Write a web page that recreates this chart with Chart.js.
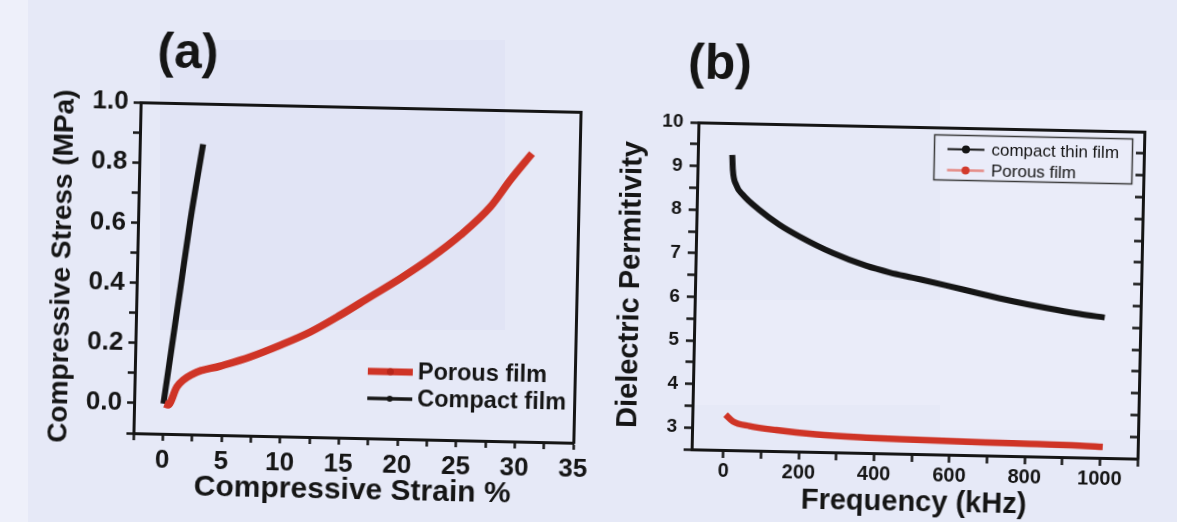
<!DOCTYPE html>
<html>
<head>
<meta charset="utf-8">
<script src="https://cdn.jsdelivr.net/npm/chart.js@4.4.1/dist/chart.umd.min.js"></script>
<style>
html,body{margin:0;padding:0;}
body{width:1177px;height:522px;background:#e6e9f7;position:relative;overflow:hidden;}
.patch{position:absolute;}
canvas{position:absolute;}
#ca{left:0;top:0;transform-origin:357px 272.5px;transform:rotate(1.25deg);}
#cb{left:600px;top:0;transform-origin:318px 290.5px;transform:rotate(1.2deg);}
.lab{position:absolute;font:bold 50px "Liberation Sans",Arial,sans-serif;color:#151515;line-height:1;transform:translate(-50%,-50%) rotate(1.2deg);white-space:nowrap;}
</style>
</head>
<body>
<div class="patch" style="left:0;top:0;width:28px;height:522px;background:#eef0fa"></div>
<div class="patch" style="left:160px;top:40px;width:345px;height:290px;background:#e1e4f5"></div>
<div class="patch" style="left:940px;top:100px;width:237px;height:330px;background:#eaecf9"></div>
<div class="patch" style="left:690px;top:300px;width:250px;height:105px;background:#eaecf9"></div>
<canvas id="ca" width="600" height="522"></canvas>
<canvas id="cb" width="577" height="522"></canvas>
<div class="lab" style="left:188px;top:51px">(a)</div>
<div class="lab" style="left:720px;top:62px">(b)</div>
<script>
// ---------- Panel (a): compressive stress vs strain ----------
const porousStrain = [0.1, 0.4, 1.12, 2.51, 4.77, 7.31, 9.85, 12.38, 14.9, 17.42, 19.95, 22.47, 24.98, 27.48, 29.14, 30.94];
const porousStress = [0.0, -0.004, 0.057, 0.102, 0.129, 0.162, 0.203, 0.249, 0.307, 0.370, 0.433, 0.502, 0.581, 0.677, 0.768, 0.858];
const compactStrain = [0.0, 1.25, 1.95, 2.9];
const compactStress = [0.0, 0.39, 0.61, 0.865];
const strainTickLabels = [0, 5, 10, 15, 20, 25, 30, 35];
const stressTickLabels = [0.0, 0.2, 0.4, 0.6, 0.8, 1.0];
const seriesNamesA = ['Porous film', 'Compact film'];

// ---------- Panel (b): dielectric permittivity vs frequency ----------
const freqCompact = [6.7, 9, 19, 37, 82, 136, 190, 279, 369, 431, 493, 582, 671, 760, 849, 938, 1005];
const permCompact = [9.27, 8.93, 8.58, 8.36, 8.02, 7.69, 7.43, 7.07, 6.79, 6.65, 6.54, 6.38, 6.21, 6.05, 5.91, 5.79, 5.72];
const freqPorous = [3.3, 23, 68, 139, 245, 378, 467, 768, 945, 1007];
const permPorous = [3.31, 3.16, 3.06, 2.98, 2.90, 2.85, 2.83, 2.79, 2.77, 2.75];
const freqTickLabels = [0, 200, 400, 600, 800, 1000];
const permTickLabels = [3, 4, 5, 6, 7, 8, 9, 10];
const seriesNamesB = ['compact thin film', 'Porous film'];

const FONT = '"Liberation Sans", Arial, Helvetica, sans-serif';
const INK = '#151515';
const RED = '#cf3426';

const pts = (xs, ys) => xs.map((x, i) => ({x: x, y: ys[i]}));
const inList = (list, v) => list.some(m => Math.abs(m - v) < 1e-6);

// tick marks at every multiple of `step` inside the scale range
function stepTicks(step) {
  return function (scale) {
    const out = [];
    const first = Math.ceil(scale.min / step - 1e-9);
    const last = Math.floor(scale.max / step + 1e-9);
    for (let k = first; k <= last; k++) out.push({value: Math.round(k * step * 1000) / 1000});
    scale.ticks = out;
  };
}

function innerLegend(cfg) {
  return {
    id: 'innerLegend',
    afterDraw(chart) {
      const ctx = chart.ctx, a = chart.chartArea;
      ctx.save();
      if (cfg.box) {
        ctx.strokeStyle = cfg.box.color; ctx.lineWidth = cfg.box.width;
        ctx.strokeRect(a.left + cfg.box.x, a.top + cfg.box.y, cfg.box.w, cfg.box.h);
      }
      ctx.font = cfg.font; ctx.textBaseline = 'middle'; ctx.textAlign = 'left';
      cfg.items.forEach((it, k) => {
        const ds = chart.data.datasets[it.dataset];
        const y = a.top + cfg.y + k * cfg.rowGap;
        const x0 = a.left + cfg.x;
        ctx.strokeStyle = it.lineColor; ctx.lineWidth = it.lineWidth; ctx.lineCap = 'butt';
        ctx.beginPath(); ctx.moveTo(x0, y); ctx.lineTo(x0 + cfg.lineLen, y); ctx.stroke();
        ctx.fillStyle = it.dotColor;
        ctx.beginPath(); ctx.arc(x0 + cfg.lineLen / 2, y, it.dotRadius, 0, Math.PI * 2); ctx.fill();
        ctx.fillStyle = cfg.textColor;
        ctx.fillText(ds.label, x0 + cfg.lineLen + cfg.gap, y + 1);
      });
      ctx.restore();
    }
  };
}

function frameAxis(position, min, max, extra) {
  return Object.assign({
    type: 'linear', position: position, min: min, max: max,
    afterFit(s) { if (position === 'top' || position === 'bottom') s.height = 0; else s.width = 0; },
    border: {display: true, color: INK, width: 3},
    grid: {display: false},
    ticks: {display: false}
  }, extra || {});
}

// ---------- Chart (a) ----------
new Chart(document.getElementById('ca'), {
  type: 'scatter',
  data: {
    datasets: [
      {label: seriesNamesA[0], data: pts(porousStrain, porousStress), showLine: true,
       borderColor: RED, backgroundColor: RED, borderWidth: 7.5, pointRadius: 0,
       cubicInterpolationMode: 'monotone'},
      {label: seriesNamesA[1], data: pts(compactStrain, compactStress), showLine: true,
       borderColor: INK, backgroundColor: INK, borderWidth: 6, pointRadius: 0,
       cubicInterpolationMode: 'monotone'}
    ]
  },
  options: {
    responsive: false, animation: false, events: [],
    layout: {padding: {top: 107, right: 23, bottom: 0, left: 0}},
    plugins: {legend: {display: false}, tooltip: {enabled: false}},
    scales: {
      x: {
        type: 'linear', position: 'bottom', min: -2.5, max: 35,
        afterFit(s) { s.height = 84; },
        afterBuildTicks: stepTicks(2.5),
        border: {display: true, color: INK, width: 3},
        grid: {display: true, drawOnChartArea: false, drawTicks: true, tickLength: 7, tickWidth: 2.5, tickColor: INK},
        ticks: {autoSkip: false, minRotation: 0, maxRotation: 0, padding: 4, color: INK,
                font: {family: FONT, size: 26, weight: 'bold'},
                callback: v => inList(strainTickLabels, v) ? String(Math.round(v)) : ''},
        title: {display: true, text: 'Compressive Strain %', color: INK,
                font: {family: FONT, size: 30, weight: 'bold'}, padding: {top: 0, bottom: 13}}
      },
      x2: frameAxis('top', -2.5, 35),
      y: {
        type: 'linear', position: 'left', min: -0.1, max: 1.0,
        afterFit(s) { s.width = 137; },
        afterBuildTicks: stepTicks(0.1),
        border: {display: true, color: INK, width: 3},
        grid: {display: true, drawOnChartArea: false, drawTicks: true, tickLength: 7, tickWidth: 2.5, tickColor: INK},
        ticks: {autoSkip: false, padding: 5, color: INK,
                font: {family: FONT, size: 26, weight: 'bold'},
                callback: v => inList(stressTickLabels, v) ? v.toFixed(1) : ''},
        title: {display: true, text: 'Compressive Stress (MPa)', color: INK,
                font: {family: FONT, size: 28, weight: 'bold'}, padding: {top: 45, bottom: 0}}
      },
      y2: frameAxis('right', -0.1, 1.0)
    }
  },
  plugins: [innerLegend({
    x: 233, y: 264, rowGap: 27, lineLen: 45, gap: 5,
    font: 'bold 23.5px ' + FONT, textColor: INK,
    items: [
      {dataset: 0, lineColor: RED, lineWidth: 7, dotColor: '#b8261a', dotRadius: 3.5},
      {dataset: 1, lineColor: INK, lineWidth: 3.5, dotColor: INK, dotRadius: 3}
    ]
  })]
});

// ---------- Chart (b) ----------
new Chart(document.getElementById('cb'), {
  type: 'scatter',
  data: {
    datasets: [
      {label: seriesNamesB[0], data: pts(freqCompact, permCompact), showLine: true,
       borderColor: INK, backgroundColor: INK, borderWidth: 6, pointRadius: 0,
       cubicInterpolationMode: 'monotone'},
      {label: seriesNamesB[1], data: pts(freqPorous, permPorous), showLine: true,
       borderColor: RED, backgroundColor: RED, borderWidth: 6.5, pointRadius: 0,
       cubicInterpolationMode: 'monotone'}
    ]
  },
  options: {
    responsive: false, animation: false, events: [],
    layout: {padding: {top: 127, right: 36, bottom: 0, left: 0}},
    plugins: {legend: {display: false}, tooltip: {enabled: false}},
    scales: {
      x: {
        type: 'linear', position: 'bottom', min: -85, max: 1100,
        afterFit(s) { s.height = 68; },
        afterBuildTicks: stepTicks(100),
        border: {display: true, color: INK, width: 3},
        grid: {display: true, drawOnChartArea: false, drawTicks: true, tickLength: 8, tickWidth: 2.5, tickColor: INK},
        ticks: {autoSkip: false, minRotation: 0, maxRotation: 0, padding: 1, color: INK,
                font: {family: FONT, size: 20, weight: 'bold'},
                callback: v => inList(freqTickLabels, v) ? String(Math.round(v)) : ''},
        title: {display: true, text: 'Frequency (kHz)', color: INK,
                font: {family: FONT, size: 29, weight: 'bold'}, padding: {top: 0, bottom: 2}}
      },
      x2: frameAxis('top', -85, 1100),
      y: {
        type: 'linear', position: 'left', min: 2.5, max: 10,
        afterFit(s) { s.width = 95; },
        afterBuildTicks: stepTicks(0.5),
        border: {display: true, color: INK, width: 3},
        grid: {display: true, drawOnChartArea: false, drawTicks: true, tickLength: 8, tickWidth: 2.5, tickColor: INK},
        ticks: {autoSkip: false, padding: 7, color: INK,
                font: {family: FONT, size: 19, weight: 'bold'},
                callback: v => inList(permTickLabels, v) ? String(Math.round(v)) : ''},
        title: {display: true, text: 'Dielectric Permitivity', color: INK,
                font: {family: FONT, size: 29, weight: 'bold'}, padding: {top: 14, bottom: 0}}
      },
      y2: frameAxis('right', 2.5, 10, {
        afterBuildTicks: stepTicks(0.5),
        grid: {display: true, drawOnChartArea: false, drawTicks: true, tickLength: -8, tickWidth: 2.5, tickColor: INK},
        ticks: {display: false, autoSkip: false}
      })
    }
  },
  plugins: [innerLegend({
    box: {x: 236.5, y: 7.5, w: 198, h: 45, color: '#3a3a3a', width: 1.5},
    x: 249.5, y: 21.5, rowGap: 21, lineLen: 37, gap: 7,
    font: '17px ' + FONT, textColor: INK,
    items: [
      {dataset: 0, lineColor: INK, lineWidth: 2, dotColor: INK, dotRadius: 4},
      {dataset: 1, lineColor: '#e58a85', lineWidth: 2.5, dotColor: '#d23a2c', dotRadius: 4}
    ]
  })]
});
</script>
</body>
</html>
